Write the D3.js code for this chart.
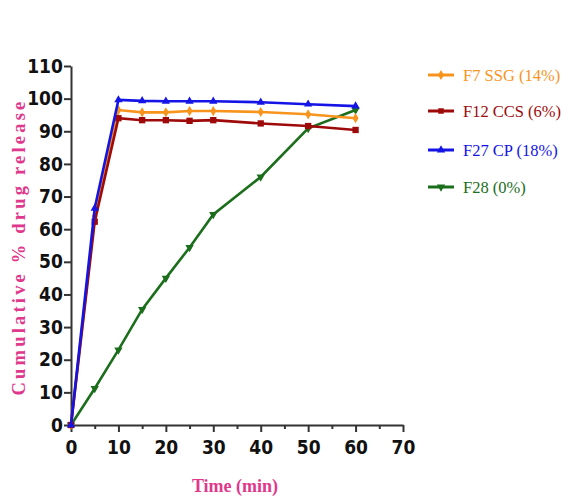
<!DOCTYPE html>
<html>
<head>
<meta charset="utf-8">
<script src="https://cdn.jsdelivr.net/npm/d3@7"></script>
<style>
  body { margin: 0; background: #fff; }
  .tick text { font-family: "DejaVu Sans Condensed", "Liberation Sans Narrow", sans-serif; font-weight: bold; font-stretch: condensed; }
</style>
</head>
<body>
<svg width="568" height="497"></svg>
<script>
var time = [0, 5, 10, 15, 20, 25, 30, 40, 50, 60];
var f7 = [0, 64, 96.5, 95.8, 95.8, 96.2, 96.2, 95.9, 95.2, 94.0];
var f12 = [0, 62.3, 94.0, 93.4, 93.4, 93.2, 93.4, 92.4, 91.6, 90.4];
var f27 = [0, 66.4, 99.6, 99.3, 99.2, 99.2, 99.2, 98.9, 98.3, 97.7];
var f28 = [0, 11.2, 23.0, 35.4, 45.0, 54.4, 64.5, 76.0, 90.9, 96.5];
var seriesNames = ['F7 SSG (14%)', 'F12 CCS (6%)', 'F27 CP (18%)', 'F28 (0%)'];
var colors = ['#f7941d', '#9e0a0a', '#1414e6', '#1b6e1b'];
var symbols = [d3.symbolDiamond, d3.symbolSquare, d3.symbolTriangle, d3.symbolTriangle];

function main() {
	var svg = d3.select('svg');
	var x = d3.scaleLinear().domain([0, 70]).range([71, 403]);
	var y = d3.scaleLinear().domain([0, 110]).range([425, 66]);

	// axes
	var xAxis = svg.append('g')
		.attr('transform', 'translate(0,425)')
		.call(d3.axisBottom(x).tickValues(d3.range(0, 71, 10)).tickSize(7).tickSizeOuter(0));
	svg.append('g')
		.attr('transform', 'translate(0,425)')
		.call(d3.axisBottom(x).tickValues(d3.range(5, 70, 10)).tickSize(4).tickFormat(''))
		.select('.domain').remove();
	var yAxis = svg.append('g')
		.attr('transform', 'translate(71,0)')
		.call(d3.axisLeft(y).tickValues(d3.range(0, 111, 10)).tickSize(7).tickSizeOuter(0));
	svg.selectAll('.domain, .tick line').attr('stroke', '#333').attr('stroke-width', 2);
	xAxis.selectAll('.tick text').attr('font-size', 19).attr('fill', '#111').attr('dy', '1.0em');
	yAxis.selectAll('.tick text').attr('font-size', 19).attr('fill', '#111').attr('dx', '0.1em');

	// series
	var all = [f7, f12, f27, f28];
	var line = d3.line()
		.x(function(d, i) { return x(time[i]); })
		.y(function(d) { return y(d); });
	var order = [3, 0, 1, 2];
	order.forEach(function(k) {
		var g = svg.append('g');
		g.append('path')
			.attr('d', line(all[k]))
			.attr('fill', 'none')
			.attr('stroke', colors[k])
			.attr('stroke-width', 2.6);
		g.selectAll('.pt')
			.data(all[k])
			.enter().append('path')
			.attr('transform', function(d, i) {
				var r = k === 3 ? ' rotate(180)' : '';
				return 'translate(' + x(time[i]) + ',' + y(d) + ')' + r;
			})
			.attr('d', d3.symbol().type(symbols[k]).size(k === 1 ? 40 : 30))
			.attr('fill', colors[k]);
	});

	// legend
	var leg = svg.append('g');
	var rows = [75, 111, 150, 187];
	seriesNames.forEach(function(name, k) {
		var r = leg.append('g').attr('transform', 'translate(0,' + rows[k] + ')');
		r.append('line').attr('x1', 428).attr('x2', 454).attr('y1', 0).attr('y2', 0)
			.attr('stroke', colors[k]).attr('stroke-width', 3);
		r.append('path').attr('transform', 'translate(441,0)' + (k === 3 ? ' rotate(180)' : ''))
			.attr('d', d3.symbol().type(symbols[k]).size(30)).attr('fill', colors[k]);
		r.append('text').attr('x', 463).attr('y', 6)
			.attr('font-family', '"Liberation Serif", "Times New Roman", serif')
			.attr('font-size', 16.5)
			.attr('fill', colors[k])
			.text(name);
	});

	// axis titles
	svg.append('text')
		.attr('transform', 'translate(25,247) rotate(-90)')
		.attr('text-anchor', 'middle')
		.attr('font-family', '"Liberation Serif", "Times New Roman", serif')
		.attr('font-weight', 'bold')
		.attr('font-size', 18.5)
		.attr('letter-spacing', 3.2)
		.attr('fill', '#e0388c')
		.text('Cumulative % drug release');
	svg.append('text')
		.attr('x', 235).attr('y', 492)
		.attr('text-anchor', 'middle')
		.attr('font-family', '"Liberation Serif", "Times New Roman", serif')
		.attr('font-weight', 'bold')
		.attr('font-size', 18)
		.attr('fill', '#e0388c')
		.text('Time (min)');
}
main();
</script>
</body>
</html>
